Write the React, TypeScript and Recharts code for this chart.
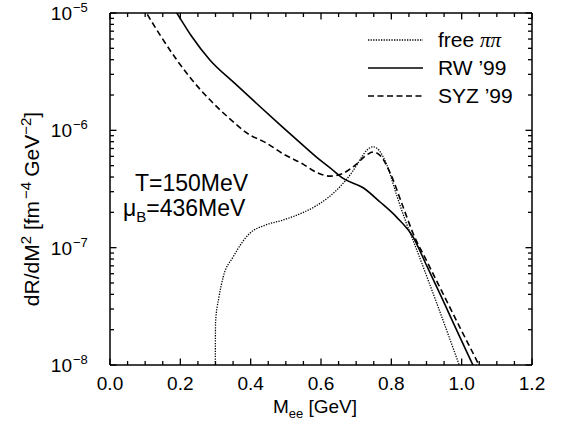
import { Customized, Line, LineChart, XAxis, YAxis } from "recharts";

const FONT = '"Liberation Sans", Arial, Helvetica, sans-serif';

// x axis: M_ee in GeV, major ticks labelled, minor every 0.05
const xMajorTicks = [0, 0.2, 0.4, 0.6, 0.8, 1.0, 1.2];
const xMinorStep = 0.05;
// y axis: decades shown (10^-8 .. 10^-5)
const yDecades = [-8, -7, -6, -5];

// free pi-pi (dotted)
const freeMass = [
  0.2995, 0.3, 0.31, 0.322, 0.35, 0.398, 0.44, 0.492, 0.55, 0.588, 0.654, 0.69,
  0.711, 0.73, 0.748, 0.765, 0.788, 0.816, 0.84, 0.862, 0.93, 0.993,
];
const freeRate = [
  1.0e-8, 2.29e-8, 3.8e-8, 5.62e-8, 8.32e-8, 1.33e-7, 1.55e-7, 1.72e-7, 2.0e-7,
  2.29e-7, 3.31e-7, 4.47e-7, 5.62e-7, 6.76e-7, 7.24e-7, 6.76e-7, 5.01e-7,
  2.75e-7, 1.7e-7, 1.15e-7, 3.31e-8, 1.0e-8,
];

// RW '99 (solid)
const rwMass = [
  0.16, 0.19, 0.23, 0.284, 0.355, 0.42, 0.49, 0.55, 0.588, 0.626, 0.663, 0.72,
  0.768, 0.815, 0.862, 0.9, 0.947, 0.99, 1.032, 1.045,
];
const rwRate = [
  1.38e-5, 1.0e-5, 6.46e-6, 3.98e-6, 2.51e-6, 1.66e-6, 1.07e-6, 7.41e-7, 5.89e-7,
  4.79e-7, 3.89e-7, 3.24e-7, 2.45e-7, 1.82e-7, 1.23e-7, 7.08e-8, 3.55e-8,
  1.86e-8, 1.0e-8, 8.32e-9,
];

// SYZ '99 (dashed)
const syzMass = [
  0.08, 0.104, 0.145, 0.19, 0.236, 0.284, 0.34, 0.398, 0.44, 0.492, 0.55, 0.588,
  0.626, 0.66, 0.7, 0.73, 0.748, 0.77, 0.796, 0.833, 0.862, 0.9, 0.95, 1.0,
  1.049, 1.06,
];
const syzRate = [
  1.35e-5, 1.0e-5, 6.31e-6, 3.98e-6, 2.63e-6, 1.82e-6, 1.26e-6, 9.12e-7, 7.94e-7,
  6.31e-7, 5.13e-7, 4.37e-7, 4.07e-7, 4.27e-7, 5.13e-7, 6.17e-7, 6.53e-7,
  6.03e-7, 4.37e-7, 2.24e-7, 1.32e-7, 7.76e-8, 3.89e-8, 1.95e-8, 1.0e-8, 8.51e-9,
];

const legendNames = ["free \u03c0\u03c0", "RW \u201999", "SYZ \u201999"];
const legendDash = ["1.3 1.3", undefined, "6 3.5"];

const toPoints = (mass: number[], rate: number[]) =>
  mass.map((m, i) => ({ m, r: rate[i] }));

const freeData = toPoints(freeMass, freeRate);
const rwData = toPoints(rwMass, rwRate);
const syzData = toPoints(syzMass, syzRate);

const xTicks: number[] = [];
for (let i = 0; i <= Math.round(1.2 / xMinorStep); i++) {
  xTicks.push(Number((i * xMinorStep).toFixed(2)));
}
const yTicks: number[] = [];
yDecades.forEach((d) => {
  if (d === yDecades[yDecades.length - 1]) {
    yTicks.push(Math.pow(10, d));
    return;
  }
  for (let k = 1; k <= 9; k++) yTicks.push(Number((k * Math.pow(10, d)).toPrecision(3)));
});

const isMajorX = (v: number) => xMajorTicks.some((t) => Math.abs(t - v) < 1e-6);
const decadeOf = (v: number) => {
  const e = Math.log10(v);
  return Math.abs(e - Math.round(e)) < 1e-6 ? Math.round(e) : null;
};

const TW = 1.3;

// tick marks point into the plot on all four sides
const XTick = (props: any) => {
  const { x, y, payload, side } = props;
  const major = isMajorX(payload.value);
  const len = major ? 6.5 : 4;
  if (side === "top") {
    return <rect x={x - TW / 2} y={y} width={TW} height={len} fill="#000" />;
  }
  return (
    <g>
      <rect x={x - TW / 2} y={y - len} width={TW} height={len} fill="#000" />
      {major && (
        <text x={x} y={y + 25} textAnchor="middle" fontSize={19} fontFamily={FONT} fill="#000">
          {payload.value.toFixed(1)}
        </text>
      )}
    </g>
  );
};

const YTick = (props: any) => {
  const { x, y, payload, side } = props;
  const exp = decadeOf(payload.value);
  const len = exp !== null ? 6.5 : 4;
  if (side === "right") {
    return <rect x={x - len} y={y - TW / 2} width={len} height={TW} fill="#000" />;
  }
  return (
    <g>
      <rect x={x} y={y - TW / 2} width={len} height={TW} fill="#000" />
      {exp !== null && (
        <g fontFamily={FONT} fill="#000">
          <text x={x - 38} y={y + 7} textAnchor="end" fontSize={19}>
            10
          </text>
          <text x={x - 37} y={y - 1} fontSize={13}>
            {"\u2212" + Math.abs(exp)}
          </text>
        </g>
      )}
    </g>
  );
};

const Decorations = () => (
  <g fontFamily={FONT} fill="#000">
    {/* y axis title */}
    <text transform="translate(39,209) rotate(-90)" textAnchor="middle" fontSize={21}>
      dR/dM
      <tspan fontSize={15} dy={-8}>2</tspan>
      <tspan dy={8}> [fm</tspan>
      <tspan fontSize={15} dy={-8} dx={2}>{"\u22124"}</tspan>
      <tspan dy={8} dx={5}>GeV</tspan>
      <tspan fontSize={15} dy={-8}>{"\u22122"}</tspan>
      <tspan dy={8}>]</tspan>
    </text>
    {/* x axis title */}
    <text x={315} y={413} textAnchor="middle" fontSize={19}>
      M
      <tspan fontSize={13} dy={5}>ee</tspan>
      <tspan dy={-5}> [GeV]</tspan>
    </text>
    {/* conditions */}
    <text x={135} y={191} fontSize={23}>T=150MeV</text>
    <text x={123} y={216} fontSize={23}>
      {"\u03bc"}
      <tspan fontSize={15} dy={6}>B</tspan>
      <tspan dy={-6}>=436MeV</tspan>
    </text>
    {/* legend */}
    {legendNames.map((name, i) => {
      const by = 47 + i * 28;
      return (
        <g key={name}>
          <line
            x1={368}
            x2={423}
            y1={by - 7}
            y2={by - 7}
            stroke="#000"
            strokeWidth={i === 0 ? 1.3 : 1.6}
            strokeDasharray={legendDash[i]}
          />
          {i === 0 ? (
            <text x={438} y={by} fontSize={21}>
              free{" "}
              <tspan fontFamily='"Liberation Serif", serif' fontStyle="italic">
                {"\u03c0\u03c0"}
              </tspan>
            </text>
          ) : (
            <text x={438} y={by} fontSize={21}>
              {name}
            </text>
          )}
        </g>
      );
    })}
  </g>
);

export default function App() {
  return (
    <div style={{ position: "absolute", left: 0, top: 0, width: 561, height: 430, background: "#fff" }}>
      <LineChart width={561} height={430} margin={{ top: 12, right: 28, bottom: 0, left: 0 }}>
        <XAxis
          xAxisId="bottom"
          type="number"
          dataKey="m"
          domain={[0, 1.2]}
          ticks={xTicks}
          interval={0}
          allowDataOverflow
          height={65}
          tickSize={0}
          tickMargin={0}
          tickLine={false}
          axisLine={{ stroke: "#000", strokeWidth: 1.5 }}
          tick={(p: any) => <XTick {...p} side="bottom" />}
        />
        <XAxis
          xAxisId="top"
          orientation="top"
          type="number"
          dataKey="m"
          domain={[0, 1.2]}
          ticks={xTicks}
          interval={0}
          allowDataOverflow
          height={1}
          tickSize={0}
          tickMargin={0}
          tickLine={false}
          axisLine={{ stroke: "#000", strokeWidth: 1.5 }}
          tick={(p: any) => <XTick {...p} side="top" />}
        />
        <YAxis
          yAxisId="left"
          type="number"
          scale="log"
          domain={[1e-8, 1e-5]}
          ticks={yTicks}
          interval={0}
          allowDataOverflow
          width={110}
          tickSize={0}
          tickMargin={0}
          tickLine={false}
          axisLine={{ stroke: "#000", strokeWidth: 1.5 }}
          tick={(p: any) => <YTick {...p} side="left" />}
        />
        <YAxis
          yAxisId="right"
          orientation="right"
          type="number"
          scale="log"
          domain={[1e-8, 1e-5]}
          ticks={yTicks}
          interval={0}
          allowDataOverflow
          width={1}
          tickSize={0}
          tickMargin={0}
          tickLine={false}
          axisLine={{ stroke: "#000", strokeWidth: 1.5 }}
          tick={(p: any) => <YTick {...p} side="right" />}
        />
        {/* invisible copy so the top and right frame axes get their ticks */}
        <Line
          xAxisId="top"
          yAxisId="right"
          data={rwData}
          dataKey="r"
          stroke="#000"
          strokeOpacity={0}
          dot={false}
          activeDot={false}
          isAnimationActive={false}
        />
        <Line
          xAxisId="bottom"
          yAxisId="left"
          data={freeData}
          dataKey="r"
          type="monotone"
          stroke="#000"
          strokeWidth={1.3}
          strokeDasharray="1.3 1.3"
          dot={false}
          activeDot={false}
          isAnimationActive={false}
        />
        <Line
          xAxisId="bottom"
          yAxisId="left"
          data={rwData}
          dataKey="r"
          type="monotone"
          stroke="#000"
          strokeWidth={1.6}
          dot={false}
          activeDot={false}
          isAnimationActive={false}
        />
        <Line
          xAxisId="bottom"
          yAxisId="left"
          data={syzData}
          dataKey="r"
          type="monotone"
          stroke="#000"
          strokeWidth={1.6}
          strokeDasharray="6 3.5"
          dot={false}
          activeDot={false}
          isAnimationActive={false}
        />
        <Customized component={<Decorations />} />
      </LineChart>
    </div>
  );
}
